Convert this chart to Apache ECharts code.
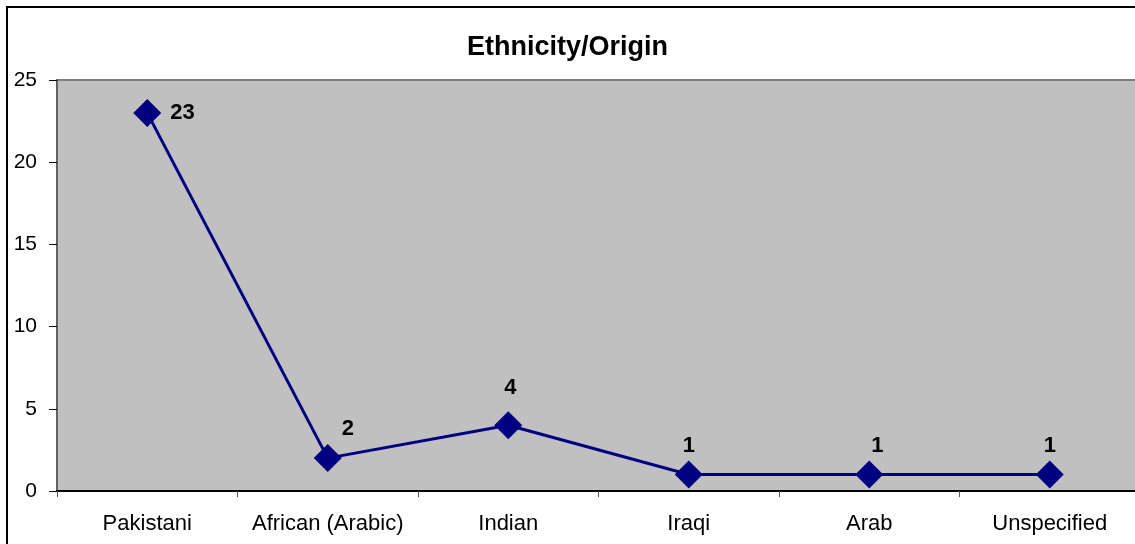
<!DOCTYPE html>
<html>
<head>
<meta charset="utf-8">
<script src="https://cdn.jsdelivr.net/npm/echarts@6/dist/echarts.min.js"></script>
<style>
  html, body { margin: 0; padding: 0; background: #fff; }
  #chart { width: 1135px; height: 544px; }
</style>
</head>
<body>
<div id="chart"></div>
<script>
// 类别和数值
const categories = ['Pakistani', 'African (Arabic)', 'Indian', 'Iraqi', 'Arab', 'Unspecified'];
const counts = [23, 2, 4, 1, 1, 1];
const yTicks = { min: 0, max: 25, interval: 5 };

// 每个点的标签位置（模仿原图）
const labelPlace = [
  { position: 'right', distance: 9, offset: [0, 0] },
  { position: 'top', distance: 4, offset: [20, 0] },
  { position: 'top', distance: 12, offset: [2, 0] },
  { position: 'top', distance: 4, offset: [0, 0] },
  { position: 'top', distance: 4, offset: [8, 0] },
  { position: 'top', distance: 4, offset: [0, 0] }
];

const chart = echarts.init(document.getElementById('chart'));
const font = '"Liberation Sans", Arial, sans-serif';

chart.setOption({
  animation: false,
  backgroundColor: '#ffffff',
  title: {
    text: 'Ethnicity/Origin',
    left: 'center',
    top: 29,
    textStyle: { fontFamily: font, fontSize: 27, fontWeight: 'bold', color: '#000' }
  },
  graphic: [{
    type: 'rect',
    shape: { x: 7, y: 7, width: 1160, height: 580 },
    style: { fill: 'none', stroke: '#000', lineWidth: 2 },
    silent: true
  }],
  grid: {
    left: 57,
    top: 80,
    width: 1083,
    height: 411,
    outerBoundsMode: 'none',
    containLabel: false,
    show: true,
    backgroundColor: '#c0c0c0',
    borderColor: '#808080',
    borderWidth: 2
  },
  xAxis: {
    type: 'category',
    data: categories,
    boundaryGap: true,
    axisLine: { lineStyle: { color: '#000', width: 2 } },
    axisTick: { show: true, alignWithLabel: false, length: 6, lineStyle: { color: '#555', width: 1 } },
    axisLabel: { fontFamily: font, fontSize: 22, color: '#000', margin: 22, interval: 0 }
  },
  yAxis: {
    type: 'value',
    min: yTicks.min,
    max: yTicks.max,
    interval: yTicks.interval,
    axisLine: { show: true, lineStyle: { color: '#606060', width: 2 } },
    axisTick: { show: true, length: 8, lineStyle: { color: '#000', width: 1 } },
    splitLine: { show: false },
    axisLabel: { fontFamily: font, fontSize: 21, color: '#000', margin: 20 }
  },
  series: [{
    type: 'line',
    data: counts.map((v, i) => ({
      value: v,
      label: labelPlace[i]
    })),
    symbol: 'diamond',
    symbolSize: 28,
    lineStyle: { color: '#000080', width: 3 },
    itemStyle: { color: '#000080' },
    label: {
      show: true,
      fontFamily: font,
      fontSize: 22,
      fontWeight: 'bold',
      color: '#000'
    }
  }]
});
</script>
</body>
</html>
